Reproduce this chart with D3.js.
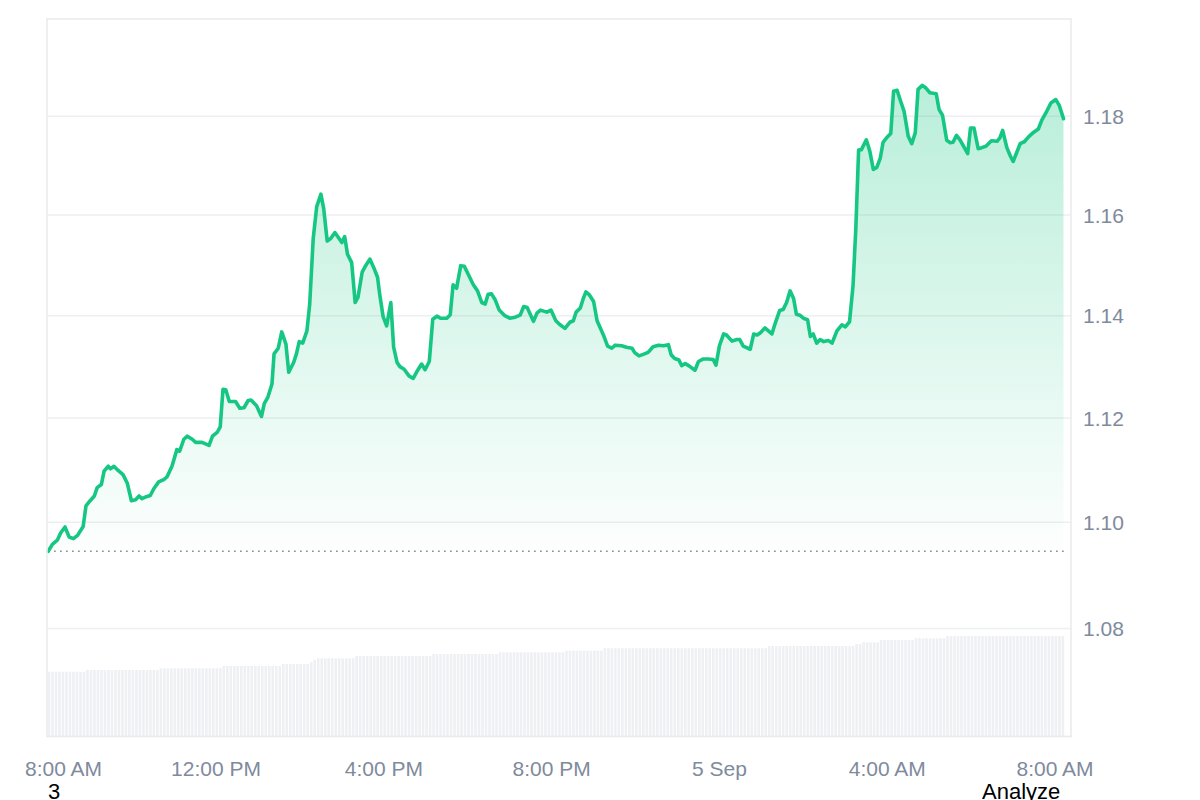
<!DOCTYPE html>
<meta charset="utf-8">
<style>
    * {
        margin: 0px;
    }
    body {
        background: #fff;
        overflow: hidden;
    }
    text {
        font-family: "Liberation Sans", Arial, sans-serif;
    }
    .grid line {
        stroke: #eeeff1;
        stroke-width: 1.5px;
    }
    .axis-label {
        fill: #808a9d;
        font-size: 21px;
    }
    .footer {
        fill: #000;
        font-size: 22px;
    }
</style>
<svg width="1200" height="800"></svg>
<script src="https://d3js.org/d3.v7.min.js"></script>
<script>
    // 24h price, 4 Sep 8:00 AM -> 5 Sep ~8:12 AM
    var openTime = new Date(2023, 8, 4, 8, 0);

    var minutesFromOpen = [
        0, 6, 13, 18, 24, 30, 36, 42, 50, 54,
        60, 66, 70, 76, 80, 86, 89, 94, 100, 107,
        113, 119, 125, 130, 134, 139, 146, 151, 158, 166,
        170, 177, 184, 188, 194, 199, 206, 211, 220, 230,
        235, 242, 246, 250, 254, 259, 268, 274, 280, 286,
        290, 298, 305, 309, 314, 320, 323, 329, 334, 340,
        344, 351, 355, 359, 364, 370, 374, 379, 384, 390,
        394, 399, 404, 410, 415, 420, 424, 428, 434, 439,
        443, 449, 454, 460, 465, 471, 474, 479, 484, 490,
        494, 499, 503, 509, 516, 522, 528, 534, 539, 545,
        550, 556, 561, 570, 575, 579, 584, 590, 595, 601,
        608, 614, 620, 625, 629, 634, 639, 645, 653, 660,
        668, 675, 680, 685, 694, 699, 704, 713, 719, 726,
        732, 739, 746, 751, 755, 761, 765, 769, 774, 780,
        785, 794, 800, 806, 811, 820, 827, 835, 839, 845,
        851, 858, 865, 873, 880, 887, 891, 896, 902, 906,
        911, 917, 925, 930, 937, 944, 951, 955, 960, 966,
        970, 978, 985, 989, 994, 1004, 1009, 1014, 1019, 1025,
        1035, 1039, 1046, 1051, 1056, 1061, 1066, 1070, 1075, 1080,
        1086, 1090, 1094, 1099, 1104, 1109, 1116, 1121, 1128, 1135,
        1140, 1146, 1151, 1155, 1159, 1163, 1170, 1175, 1180, 1185,
        1190, 1194, 1199, 1205, 1209, 1214, 1219, 1224, 1230, 1235,
        1240, 1244, 1250, 1255, 1261, 1270, 1274, 1279, 1285, 1290,
        1294, 1299, 1304, 1309, 1315, 1319, 1324, 1330, 1335, 1341,
        1349, 1357, 1361, 1365, 1371, 1376, 1380, 1390, 1396, 1402,
        1409, 1416, 1421, 1428, 1434, 1441, 1446, 1452
    ];

    var prices = [
        1.0945, 1.0958, 1.0966, 1.0980, 1.0991, 1.0972, 1.0969, 1.0975, 1.0992, 1.1031,
        1.1041, 1.1050, 1.1066, 1.1072, 1.1098, 1.1107, 1.1102, 1.1107, 1.1099, 1.1091,
        1.1075, 1.1041, 1.1043, 1.1050, 1.1045, 1.1048, 1.1051, 1.1064, 1.1077, 1.1082,
        1.1087, 1.1107, 1.1139, 1.1136, 1.1159, 1.1165, 1.1159, 1.1153, 1.1153, 1.1147,
        1.1165, 1.1173, 1.1183, 1.1256, 1.1255, 1.1232, 1.1232, 1.1219, 1.1220, 1.1234,
        1.1235, 1.1224, 1.1203, 1.1228, 1.1240, 1.1266, 1.1325, 1.1336, 1.1368, 1.1344,
        1.1289, 1.1308, 1.1325, 1.1349, 1.1346, 1.1370, 1.1423, 1.1553, 1.1617, 1.1642,
        1.1613, 1.1548, 1.1553, 1.1565, 1.1555, 1.1545, 1.1557, 1.1522, 1.1505, 1.1426,
        1.1436, 1.1486, 1.1499, 1.1512, 1.1497, 1.1476, 1.1443, 1.1398, 1.1380, 1.1426,
        1.1338, 1.1308, 1.1300, 1.1295, 1.1282, 1.1277, 1.1292, 1.1305, 1.1294, 1.1310,
        1.1393, 1.1399, 1.1395, 1.1395, 1.1402, 1.1461, 1.1454, 1.1499, 1.1498, 1.1481,
        1.1461, 1.1449, 1.1426, 1.1423, 1.1442, 1.1443, 1.1432, 1.1411, 1.1400, 1.1395,
        1.1397, 1.1401, 1.1418, 1.1416, 1.1389, 1.1405, 1.1411, 1.1407, 1.1411, 1.1390,
        1.1382, 1.1375, 1.1387, 1.1390, 1.1407, 1.1415, 1.1433, 1.1447, 1.1441, 1.1428,
        1.1390, 1.1362, 1.1340, 1.1336, 1.1342, 1.1341, 1.1338, 1.1336, 1.1327, 1.1321,
        1.1324, 1.1328, 1.1339, 1.1342, 1.1341, 1.1343, 1.1323, 1.1316, 1.1313, 1.1302,
        1.1306, 1.1301, 1.1293, 1.1310, 1.1315, 1.1315, 1.1314, 1.1303, 1.1341, 1.1364,
        1.1362, 1.1350, 1.1353, 1.1353, 1.1340, 1.1334, 1.1364, 1.1362, 1.1367, 1.1376,
        1.1364, 1.1382, 1.1410, 1.1412, 1.1426, 1.1449, 1.1434, 1.1403, 1.1401, 1.1395,
        1.1392, 1.1359, 1.1364, 1.1346, 1.1353, 1.1349, 1.1351, 1.1346, 1.1370, 1.1382,
        1.1378, 1.1388, 1.1459, 1.1573, 1.1731, 1.1732, 1.1752, 1.1729, 1.1692, 1.1696,
        1.1715, 1.1747, 1.1756, 1.1765, 1.1851, 1.1853, 1.1831, 1.1810, 1.1759, 1.1744,
        1.1766, 1.1855, 1.1863, 1.1858, 1.1848, 1.1846, 1.1814, 1.1802, 1.1751, 1.1746,
        1.1747, 1.1761, 1.1752, 1.1739, 1.1724, 1.1776, 1.1776, 1.1734, 1.1736, 1.1739,
        1.1750, 1.1749, 1.1756, 1.1771, 1.1736, 1.1719, 1.1708, 1.1744, 1.1748, 1.1758,
        1.1767, 1.1774, 1.1792, 1.1810, 1.1827, 1.1834, 1.1822, 1.1795
    ];

    // volume bars, one per 5 minutes, given as (run length, level in M)
    var volumeRuns =   [11, 21, 18, 17, 8, 1, 1, 11, 22, 19, 19, 11, 47, 25, 2, 5, 10, 9, 34];
    var volumeLevels = [6.48, 6.65, 6.82, 7.05, 7.25, 7.45, 7.65, 7.82, 8.05, 8.25,
                        8.42, 8.58, 8.83, 9.05, 9.25, 9.42, 9.65, 9.82, 10.05];

    var priceTicks = [1.08, 1.10, 1.12, 1.14, 1.16, 1.18];
    var footerLabels = ["3", "Analyze"];

    var svg = d3.select("svg");
    var plotLeft = 47, plotRight = 1071, plotTop = 19, plotBottom = 736.5;

    var data = prices.map(function(p, i) {
        return { time: d3.timeMinute.offset(openTime, minutesFromOpen[i]), price: p };
    });

    var volume = [];
    volumeRuns.forEach(function(n, k) {
        for (var j = 0; j < n; j++) volume.push(volumeLevels[k]);
    });
    volume = volume.map(function(v, i) {
        return { time: d3.timeMinute.offset(openTime, i * 5), value: v };
    });

    var x = d3.scaleTime()
        .domain([openTime, d3.timeMinute.offset(openTime, 1440)])
        .range([48.2, 1055.1]);

    var y = d3.scaleLog()
        .domain([1.06, 1.20])
        .range([plotBottom, plotTop]);

    var yVol = d3.scaleLinear()
        .domain([0, d3.max(volume, function(d) { return d.value; })])
        .range([plotBottom, 636]);

    // gridlines
    svg.append("g")
        .attr("class", "grid")
        .selectAll("line")
        .data(priceTicks)
        .enter().append("line")
        .attr("x1", plotLeft)
        .attr("x2", plotRight)
        .attr("y1", function(d) { return y(d); })
        .attr("y2", function(d) { return y(d); });

    // volume
    svg.append("g")
        .selectAll("rect")
        .data(volume)
        .enter().append("rect")
        .attr("x", function(d) { return x(d.time) - 0.5; })
        .attr("width", 2.6)
        .attr("y", function(d) { return yVol(d.value); })
        .attr("height", function(d) { return plotBottom - yVol(d.value); })
        .attr("fill", "#eef0f4");

    var baseY = y(prices[0]);
    var topY = y(d3.max(prices));

    var grad = svg.append("defs").append("linearGradient")
        .attr("id", "areaFill")
        .attr("gradientUnits", "userSpaceOnUse")
        .attr("x1", 0).attr("x2", 0)
        .attr("y1", topY).attr("y2", baseY);
    grad.append("stop").attr("offset", "0%").attr("stop-color", "#16c784").attr("stop-opacity", 0.3);
    grad.append("stop").attr("offset", "100%").attr("stop-color", "#16c784").attr("stop-opacity", 0.01);

    var area = d3.area()
        .x(function(d) { return x(d.time); })
        .y0(baseY)
        .y1(function(d) { return y(d.price); });

    svg.append("path")
        .datum(data)
        .attr("d", area)
        .attr("fill", "url(#areaFill)");

    // opening price reference
    svg.append("line")
        .attr("x1", plotLeft + 1)
        .attr("x2", x(data[data.length - 1].time) + 3)
        .attr("y1", baseY)
        .attr("y2", baseY)
        .attr("stroke", "#8a8f98")
        .attr("stroke-width", 1.7)
        .attr("stroke-dasharray", "1.7 4.3");

    var line = d3.line()
        .x(function(d) { return x(d.time); })
        .y(function(d) { return y(d.price); });

    svg.append("path")
        .datum(data)
        .attr("d", line)
        .attr("fill", "none")
        .attr("stroke", "#16c784")
        .attr("stroke-width", 3.6)
        .attr("stroke-linejoin", "round")
        .attr("stroke-linecap", "round");

    // frame
    svg.append("rect")
        .attr("x", plotLeft)
        .attr("y", plotTop)
        .attr("width", plotRight - plotLeft)
        .attr("height", plotBottom - plotTop)
        .attr("fill", "none")
        .attr("stroke", "#ebebeb")
        .attr("stroke-width", 1.6);

    // y labels on the right
    svg.append("g")
        .selectAll("text")
        .data(priceTicks)
        .enter().append("text")
        .attr("class", "axis-label")
        .attr("x", 1083)
        .attr("y", function(d) { return y(d); })
        .attr("dy", "0.36em")
        .text(d3.format(".2f"));

    // x labels
    var fmtDay = d3.timeFormat("%-d %b"),
        fmtHour = d3.timeFormat("%-I:%M %p");
    var xLabels = svg.append("g")
        .selectAll("text")
        .data(x.ticks(d3.timeHour.every(4)))
        .enter().append("text")
        .attr("class", "axis-label")
        .attr("text-anchor", "middle")
        .attr("x", function(d) { return x(d); })
        .attr("y", 776)
        .text(function(d) { return d.getHours() === 0 ? fmtDay(d) : fmtHour(d); });

    // keep the first label from hanging off the left
    xLabels.each(function() {
        var w = this.getComputedTextLength();
        var cx = +this.getAttribute("x");
        if (cx - w / 2 < 25) this.setAttribute("x", 25 + w / 2);
    });

    // the two stray labels sit on the bottom edge, as in the source
    svg.append("text")
        .attr("class", "footer")
        .attr("x", 48)
        .attr("y", 799)
        .text(footerLabels[0]);

    svg.append("text")
        .attr("class", "footer")
        .attr("x", 982)
        .attr("y", 799)
        .text(footerLabels[1]);
</script>
